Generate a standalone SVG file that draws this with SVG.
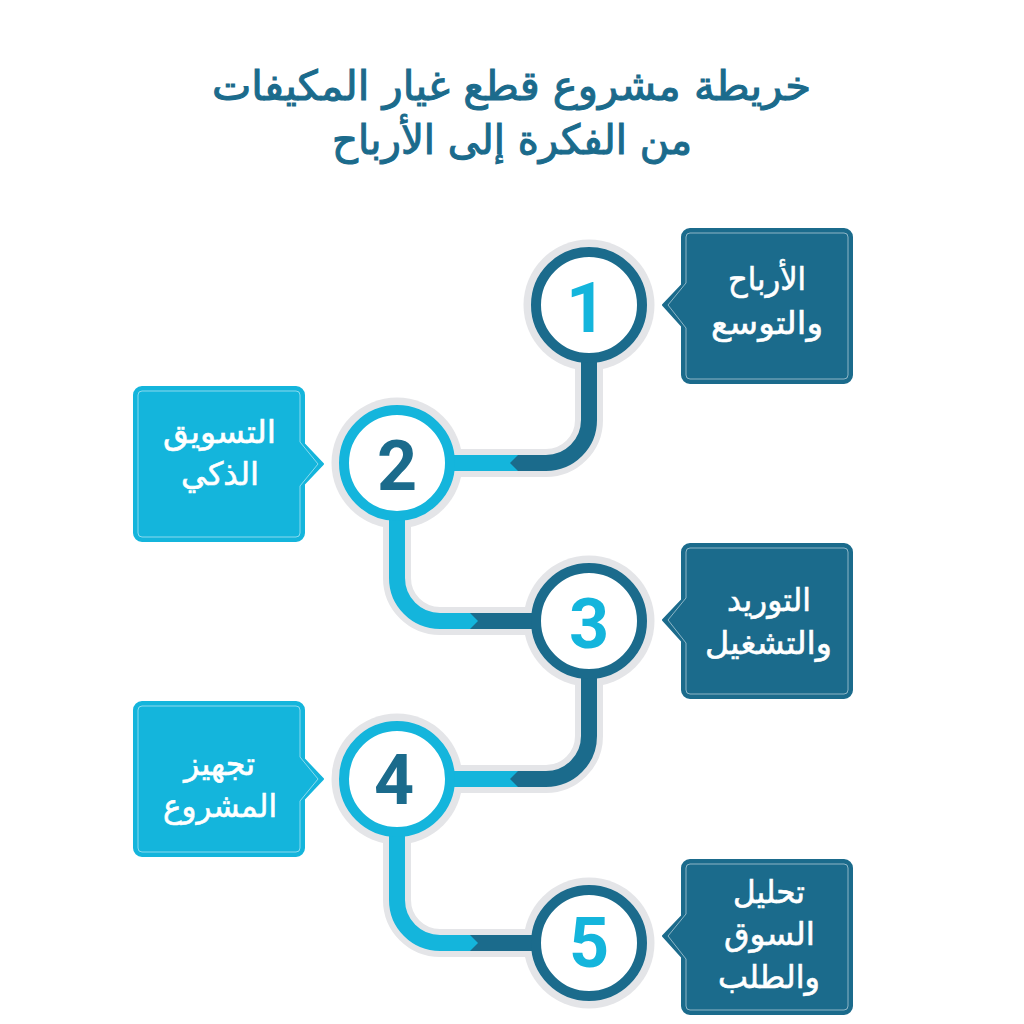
<svg xmlns="http://www.w3.org/2000/svg" width="1024" height="1024" viewBox="0 0 1024 1024">
<style>
.halo{fill:none;stroke:#e4e5e8;stroke-width:28}
.line{fill:none;stroke-width:16}
.d{stroke:#1b6b8c}.l{stroke:#14b5dc}
.hc{fill:#e4e5e8}
.w{fill:#fff;stroke-width:10}
.title{font-family:"DejaVu Sans",sans-serif;font-size:41px;fill:#1b6b8c;stroke:#1b6b8c;stroke-width:1.1px;text-anchor:middle;direction:rtl}
.lbl{font-family:"DejaVu Sans",sans-serif;font-size:32px;fill:#fff;stroke:#fff;stroke-width:.6px;text-anchor:middle;direction:rtl}
.num{font-family:Roboto,sans-serif;font-size:70px;font-weight:700;text-anchor:middle}
.in{fill:none;stroke:#fff;stroke-opacity:.5;stroke-width:1;stroke-linejoin:round}
.sh{stroke-width:2;stroke-linejoin:round}
</style>
<defs>
<g id="boxL"><path class="sh" d="M9 1H163a8 8 0 0 1 8 8V58L190 78L171 98V147a8 8 0 0 1 -8 8H9a8 8 0 0 1 -8 -8V9a8 8 0 0 1 8 -8Z"/><path class="in" d="M9 5H163a4 4 0 0 1 4 4V56L185 78L167 100V147a4 4 0 0 1 -4 4H9a4 4 0 0 1 -4 -4V9a4 4 0 0 1 4 -4Z"/></g>
<g id="boxR"><path class="sh" d="M163 1H9a8 8 0 0 0 -8 8V57L-18 77L1 98V147a8 8 0 0 0 8 8H163a8 8 0 0 0 8 -8V9a8 8 0 0 0 -8 -8Z"/><path class="in" d="M163 5H9a4 4 0 0 0 -4 4V55L-13 77L5 100V147a4 4 0 0 0 4 4H163a4 4 0 0 0 4 -4V9a4 4 0 0 0 -4 -4Z"/></g>
</defs>
<text class="title" x="511.5" y="100" textLength="599" lengthAdjust="spacingAndGlyphs">خريطة مشروع قطع غيار المكيفات</text>
<text class="title" x="512" y="154" textLength="360" lengthAdjust="spacingAndGlyphs">من الفكرة إلى الأرباح</text>
<g id="halos">
<circle class="hc" cx="589" cy="305" r="65.5"/><circle class="hc" cx="397" cy="463" r="65.5"/><circle class="hc" cx="589" cy="621" r="65.5"/><circle class="hc" cx="397" cy="779" r="65.5"/><circle class="hc" cx="589" cy="943" r="65.5"/>
</g>
<g id="connectors">
<path class="halo" d="M589 360V420A43 43 0 0 1 546 463H450"/>
<path class="halo" d="M397 518V578A43 43 0 0 0 440 621H540"/>
<path class="halo" d="M589 676V736A43 43 0 0 1 546 779H450"/>
<path class="halo" d="M397 834V900A43 43 0 0 0 440 943H540"/>
<path class="line l" d="M450 463H520"/><path class="line d" d="M589 360V420A43 43 0 0 1 546 463H518"/><path fill="#1b6b8c" d="M518 455L510 463L518 471Z"/>
<path class="line d" d="M470 621H540"/><path class="line l" d="M397 518V578A43 43 0 0 0 440 621H470"/><path fill="#14b5dc" d="M470 613L478 621L470 629Z"/>
<path class="line l" d="M450 779H520"/><path class="line d" d="M589 676V736A43 43 0 0 1 546 779H518"/><path fill="#1b6b8c" d="M518 771L510 779L518 787Z"/>
<path class="line d" d="M470 943H540"/><path class="line l" d="M397 834V900A43 43 0 0 0 440 943H470"/><path fill="#14b5dc" d="M470 935L478 943L470 951Z"/>
</g>
<g id="node1"><circle class="w d" cx="589" cy="305" r="53"/><text class="num" x="586" y="332" fill="#14b5dc">1</text><use href="#boxR" x="681" y="228" fill="#1b6b8c" stroke="#1b6b8c"/><text class="lbl" x="767" y="290" textLength="78" lengthAdjust="spacingAndGlyphs">الأرباح</text><text class="lbl" x="767" y="334" textLength="112" lengthAdjust="spacingAndGlyphs">والتوسع</text></g>
<g id="node2"><circle class="w l" cx="397" cy="463" r="53"/><text class="num" x="397" y="490" fill="#1b6b8c">2</text><use href="#boxL" x="133" y="386" fill="#14b5dc" stroke="#14b5dc"/><text class="lbl" x="219.5" y="443" textLength="113" lengthAdjust="spacingAndGlyphs">التسويق</text><text class="lbl" x="220" y="485" textLength="78" lengthAdjust="spacingAndGlyphs">الذكي</text></g>
<g id="node3"><circle class="w d" cx="589" cy="621" r="53"/><text class="num" x="589" y="648" fill="#14b5dc">3</text><use href="#boxR" x="681" y="543" fill="#1b6b8c" stroke="#1b6b8c"/><text class="lbl" x="769" y="611" textLength="84" lengthAdjust="spacingAndGlyphs">التوريد</text><text class="lbl" x="768.5" y="654" textLength="127" lengthAdjust="spacingAndGlyphs">والتشغيل</text></g>
<g id="node4"><circle class="w l" cx="397" cy="779" r="53"/><text class="num" x="394" y="804" fill="#1b6b8c">4</text><use href="#boxL" x="133" y="701" fill="#14b5dc" stroke="#14b5dc"/><text class="lbl" x="219.5" y="775" textLength="71" lengthAdjust="spacingAndGlyphs">تجهيز</text><text class="lbl" x="220" y="817" textLength="114" lengthAdjust="spacingAndGlyphs">المشروع</text></g>
<g id="node5"><circle class="w d" cx="589" cy="943" r="53"/><text class="num" x="589" y="967" fill="#14b5dc">5</text><use href="#boxR" x="681" y="859" fill="#1b6b8c" stroke="#1b6b8c"/><text class="lbl" x="769" y="903" textLength="72" lengthAdjust="spacingAndGlyphs">تحليل</text><text class="lbl" x="769.5" y="945" textLength="91" lengthAdjust="spacingAndGlyphs">السوق</text><text class="lbl" x="769" y="988" textLength="102" lengthAdjust="spacingAndGlyphs">والطلب</text></g>
</svg>
